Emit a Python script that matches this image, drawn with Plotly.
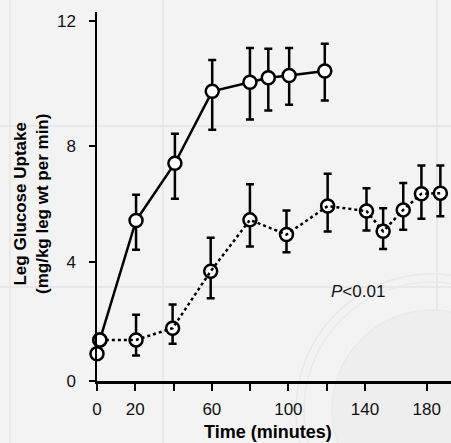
import plotly.graph_objects as go

# ---- data ----
solid_t = [1.5, 20.4, 40.7, 60.2, 79.9, 89.5, 100.4, 119.0]
solid_v = [1.40, 5.47, 7.42, 9.87, 10.18, 10.33, 10.41, 10.56]
solid_err_plus = [0, 0.88, 1.00, 1.07, 1.17, 0.99, 0.94, 0.93]
solid_err_minus = [0, 1.00, 1.21, 1.31, 1.27, 1.11, 1.00, 1.00]

dotted_t = [1.5, 20.4, 39.5, 59.4, 79.9, 99.0, 120.5, 140.8, 149.5, 160.0, 169.5, 179.4]
dotted_v = [1.40, 1.40, 1.80, 3.74, 5.49, 4.99, 5.96, 5.79, 5.10, 5.83, 6.38, 6.40]
dotted_err_plus = [0, 0.86, 0.81, 1.14, 1.21, 0.82, 1.10, 0.78, 0.79, 0.92, 0.96, 0.94]
dotted_err_minus = [0, 0.53, 0.53, 0.92, 0.91, 0.60, 0.87, 0.66, 0.60, 0.68, 0.85, 0.79]

baseline_t = [0]
baseline_v = [0.93]

x_tick_vals = [0, 20, 40, 60, 80, 100, 120, 140, 172.3]
x_tick_text = ["0", "20", "", "60", "", "100", "", "140", "180"]
y_tick_vals = [0, 4.04, 8.02, 12.28]
y_tick_text = ["0", "4", "8", "12"]

FONT = "Liberation Sans, Arial, sans-serif"
BG = "#f3f3f3"

# layout geometry (pixels)
W, H = 451, 443
L, R, T, B = 97, 0, 12, 62
PW, PH = W - L - R, H - T - B


def px_x(p):
    return (p - L) / PW


def px_y(p):
    return (H - B - p) / PH


marker = dict(symbol="circle", size=13, color="white", line=dict(color="black", width=2.5))

fig = go.Figure()

# baseline point at time 0
fig.add_trace(go.Scatter(x=baseline_t, y=baseline_v, mode="markers", marker=marker,
                         cliponaxis=False, showlegend=False))

# dotted series: markers + error bars, then dotted line drawn on top
fig.add_trace(go.Scatter(
    x=dotted_t, y=dotted_v, mode="markers", marker=marker, cliponaxis=False,
    error_y=dict(type="data", symmetric=False, array=dotted_err_plus,
                 arrayminus=dotted_err_minus, color="black", thickness=2.5, width=4),
    showlegend=False))
fig.add_trace(go.Scatter(
    x=dotted_t, y=dotted_v, mode="lines", cliponaxis=False,
    line=dict(color="black", width=2.5, dash="dot"), showlegend=False))

# solid series
fig.add_trace(go.Scatter(
    x=solid_t, y=solid_v, mode="lines+markers", marker=marker, cliponaxis=False,
    line=dict(color="black", width=2.5),
    error_y=dict(type="data", symmetric=False, array=solid_err_plus,
                 arrayminus=solid_err_minus, color="black", thickness=2.5, width=4),
    showlegend=False))

# faint slide background decoration
shapes = []
for vx in [10, 163, 437]:
    shapes.append(dict(type="line", xref="paper", yref="paper", x0=px_x(vx), x1=px_x(vx),
                       y0=px_y(H), y1=px_y(0), line=dict(color="#e5e5e5", width=1.5), layer="below"))
for hy in [126, 287]:
    shapes.append(dict(type="line", xref="paper", yref="paper", x0=px_x(0), x1=px_x(W),
                       y0=px_y(hy), y1=px_y(hy), line=dict(color="#e5e5e5", width=1.5), layer="below"))
cx, cy = 432, 410
for r, fill, lc in [(136, "rgba(0,0,0,0)", "#e8e8e8"), (128, "rgba(0,0,0,0)", "#eaeaea"),
                    (100, "#eeeeee", "#e9e9e9")]:
    shapes.append(dict(type="circle", xref="paper", yref="paper",
                       x0=px_x(cx - r), x1=px_x(cx + r), y0=px_y(cy + r), y1=px_y(cy - r),
                       fillcolor=fill, line=dict(color=lc, width=1.5), layer="below"))

annotations = [
    dict(text="<b>Leg Glucose Uptake<br>(mg/kg leg wt per min)</b>", textangle=-90,
         xref="paper", yref="paper", x=px_x(32), y=px_y(204), showarrow=False,
         xanchor="center", yanchor="middle", font=dict(family=FONT, size=17, color="black")),
    dict(text="<b>Time (minutes)</b>", xref="paper", yref="paper", x=px_x(268), y=px_y(432),
         showarrow=False, xanchor="center", yanchor="middle",
         font=dict(family=FONT, size=18, color="black")),
    dict(text="<i>P</i>&lt;0.01", xref="x", yref="y", x=136.1, y=3.04, showarrow=False,
         xanchor="center", yanchor="middle", font=dict(family=FONT, size=17, color="#111")),
]

fig.update_layout(
    width=W, height=H, margin=dict(l=L, r=R, t=T, b=B, pad=0),
    paper_bgcolor=BG, plot_bgcolor="rgba(0,0,0,0)",
    shapes=shapes, annotations=annotations, showlegend=False,
    font=dict(family=FONT, size=17, color="#111"),
)
fig.update_xaxes(range=[0, PW / 1.914], showgrid=False, zeroline=False,
                 showline=True, linecolor="black", linewidth=2.5,
                 ticks="outside", ticklen=7, tickwidth=2, tickcolor="black",
                 tickvals=x_tick_vals, ticktext=x_tick_text, ticklabelstandoff=4,
                 tickfont=dict(family=FONT, size=17, color="#111"))
fig.update_yaxes(range=[0, PH / 29.35], showgrid=False, zeroline=False,
                 showline=True, linecolor="black", linewidth=1.5,
                 ticks="outside", ticklen=6, tickwidth=1.5, tickcolor="black",
                 tickvals=y_tick_vals, ticktext=y_tick_text, ticklabelstandoff=10,
                 tickfont=dict(family=FONT, size=17, color="#111"))

fig.write_html("out.html")
